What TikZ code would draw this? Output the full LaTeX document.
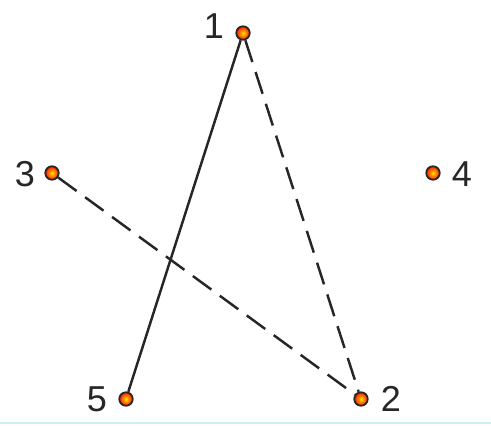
\documentclass[tikz,border=0pt]{standalone}
\usepackage{fontspec}
\setmainfont{Liberation Sans}
\begin{document}
\begin{tikzpicture}[x=0.02cm,y=-0.02cm,
  pt/.style={circle,draw=black!85,line width=1pt,inner sep=0pt,minimum size=0.27cm,
    inner color=yellow!80!orange,outer color=red!85!orange},
  lbl/.style={font=\fontsize{20.5}{24}\selectfont,text=black!85,inner sep=0pt},
  solidline/.style={line width=1.4pt,black!85},
  dashline/.style={line width=1.4pt,black!85,dash pattern=on 13pt off 6pt}]
\useasboundingbox (0,0) rectangle (491,426);
\fill[white] (0,0) rectangle (491,426);
\draw[cyan!20,line width=1.5pt] (0,423) -- (491,423);
\node[pt] (p1) at (243,33) {};
\node[pt] (p2) at (361,399) {};
\node[pt] (p3) at (52,173) {};
\node[pt] (p4) at (433,173) {};
\node[pt] (p5) at (126,399) {};
\node[lbl] (l1) at (214,26) {1};
\node[lbl] (l2) at (391,399) {2};
\node[lbl] (l3) at (25,174) {3};
\node[lbl] (l4) at (462,174) {4};
\node[lbl] (l5) at (97,399) {5};
\draw[solidline] (p1) -- (p5);
\draw[dashline] (p1) -- (p2);
\draw[dashline] (p3) -- (p2);
\end{tikzpicture}
\end{document}
